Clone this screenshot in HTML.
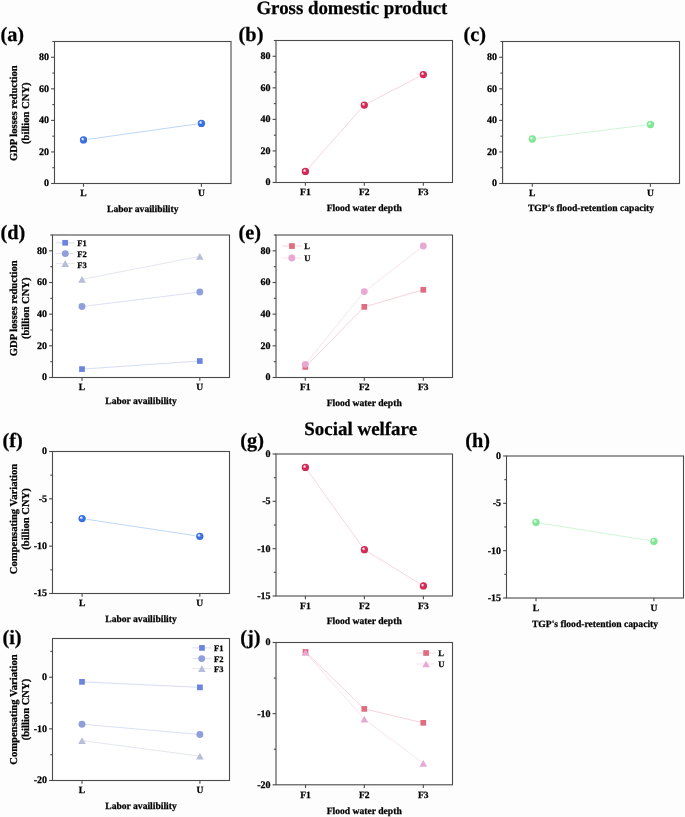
<!DOCTYPE html>
<html><head><meta charset="utf-8"><style>
html,body{margin:0;padding:0;background:#fdfdfd;}
svg{display:block;will-change:transform;}
text{font-family:"Liberation Serif", serif;font-weight:bold;fill:#000;stroke:#000;stroke-width:0.25px;}
</style></head><body>
<svg width="685" height="817" viewBox="0 0 685 817" text-rendering="geometricPrecision">
<defs><radialGradient id="gb" cx="0.5" cy="0.5" r="0.5" fx="0.33" fy="0.31"><stop offset="0" stop-color="#eef4fe"/><stop offset="0.12" stop-color="#eef4fe"/><stop offset="0.5" stop-color="#3b70e4"/><stop offset="0.85" stop-color="#3b70e4"/><stop offset="1" stop-color="#3366dd"/></radialGradient><radialGradient id="gr" cx="0.5" cy="0.5" r="0.5" fx="0.33" fy="0.31"><stop offset="0" stop-color="#fbeef2"/><stop offset="0.12" stop-color="#fbeef2"/><stop offset="0.5" stop-color="#d42a55"/><stop offset="0.85" stop-color="#d42a55"/><stop offset="1" stop-color="#cc2550"/></radialGradient><radialGradient id="gg" cx="0.5" cy="0.5" r="0.5" fx="0.33" fy="0.31"><stop offset="0" stop-color="#f2fdf4"/><stop offset="0.12" stop-color="#f2fdf4"/><stop offset="0.5" stop-color="#80e894"/><stop offset="0.85" stop-color="#80e894"/><stop offset="1" stop-color="#78e08c"/></radialGradient></defs>
<rect width="685" height="817" fill="#fdfdfd"/>
<rect x="54.5" y="41.5" width="176.50" height="142.00" fill="#fff"/>
<polyline points="83.50,139.95 201.40,123.39" fill="none" stroke="#bfd6f5" stroke-width="1"/>
<circle cx="83.50" cy="139.95" r="4.65" fill="#fff"/>
<circle cx="83.50" cy="139.95" r="3.65" fill="url(#gb)"/>
<circle cx="201.40" cy="123.39" r="4.65" fill="#fff"/>
<circle cx="201.40" cy="123.39" r="3.65" fill="url(#gb)"/>
<rect x="54.5" y="41.5" width="176.50" height="142.00" fill="none" stroke="#4a4a4a" stroke-width="1.1"/>
<line x1="51.10" y1="183.50" x2="54.5" y2="183.50" stroke="#4a4a4a" stroke-width="1.1"/>
<text x="49.00" y="186.35" font-size="10" text-anchor="end">0</text>
<line x1="51.10" y1="151.94" x2="54.5" y2="151.94" stroke="#4a4a4a" stroke-width="1.1"/>
<text x="49.00" y="154.79" font-size="10" text-anchor="end">20</text>
<line x1="51.10" y1="120.39" x2="54.5" y2="120.39" stroke="#4a4a4a" stroke-width="1.1"/>
<text x="49.00" y="123.24" font-size="10" text-anchor="end">40</text>
<line x1="51.10" y1="88.83" x2="54.5" y2="88.83" stroke="#4a4a4a" stroke-width="1.1"/>
<text x="49.00" y="91.68" font-size="10" text-anchor="end">60</text>
<line x1="51.10" y1="57.28" x2="54.5" y2="57.28" stroke="#4a4a4a" stroke-width="1.1"/>
<text x="49.00" y="60.13" font-size="10" text-anchor="end">80</text>
<line x1="52.30" y1="167.72" x2="54.5" y2="167.72" stroke="#4a4a4a" stroke-width="1.1"/>
<line x1="52.30" y1="136.17" x2="54.5" y2="136.17" stroke="#4a4a4a" stroke-width="1.1"/>
<line x1="52.30" y1="104.61" x2="54.5" y2="104.61" stroke="#4a4a4a" stroke-width="1.1"/>
<line x1="52.30" y1="73.06" x2="54.5" y2="73.06" stroke="#4a4a4a" stroke-width="1.1"/>
<line x1="52.30" y1="41.50" x2="54.5" y2="41.50" stroke="#4a4a4a" stroke-width="1.1"/>
<line x1="83.50" y1="183.5" x2="83.50" y2="186.80" stroke="#4a4a4a" stroke-width="1.1"/>
<text x="83.50" y="196.10" font-size="9.6" text-anchor="middle">L</text>
<line x1="201.40" y1="183.5" x2="201.40" y2="186.80" stroke="#4a4a4a" stroke-width="1.1"/>
<text x="201.40" y="196.10" font-size="9.6" text-anchor="middle">U</text>
<text x="142.75" y="211.60" font-size="9.6" text-anchor="middle">Labor availibility</text>
<text x="16.80" y="113.20" font-size="10.6" text-anchor="middle" transform="rotate(-90 16.80 113.20)">GDP losses reduction</text>
<text x="29.00" y="113.20" font-size="10.6" text-anchor="middle" transform="rotate(-90 29.00 113.20)">(billion CNY)</text>
<text x="0.45" y="41.30" font-size="20.3" text-anchor="start">(a)</text>
<rect x="276.0" y="40.5" width="176.50" height="142.00" fill="#fff"/>
<polyline points="305.40,171.46 364.30,105.03 423.30,74.58" fill="none" stroke="#f8d6de" stroke-width="1"/>
<circle cx="305.40" cy="171.46" r="4.65" fill="#fff"/>
<circle cx="305.40" cy="171.46" r="3.65" fill="url(#gr)"/>
<circle cx="364.30" cy="105.03" r="4.65" fill="#fff"/>
<circle cx="364.30" cy="105.03" r="3.65" fill="url(#gr)"/>
<circle cx="423.30" cy="74.58" r="4.65" fill="#fff"/>
<circle cx="423.30" cy="74.58" r="3.65" fill="url(#gr)"/>
<rect x="276.0" y="40.5" width="176.50" height="142.00" fill="none" stroke="#4a4a4a" stroke-width="1.1"/>
<line x1="272.60" y1="182.50" x2="276.0" y2="182.50" stroke="#4a4a4a" stroke-width="1.1"/>
<text x="270.50" y="185.35" font-size="10" text-anchor="end">0</text>
<line x1="272.60" y1="150.94" x2="276.0" y2="150.94" stroke="#4a4a4a" stroke-width="1.1"/>
<text x="270.50" y="153.79" font-size="10" text-anchor="end">20</text>
<line x1="272.60" y1="119.39" x2="276.0" y2="119.39" stroke="#4a4a4a" stroke-width="1.1"/>
<text x="270.50" y="122.24" font-size="10" text-anchor="end">40</text>
<line x1="272.60" y1="87.83" x2="276.0" y2="87.83" stroke="#4a4a4a" stroke-width="1.1"/>
<text x="270.50" y="90.68" font-size="10" text-anchor="end">60</text>
<line x1="272.60" y1="56.28" x2="276.0" y2="56.28" stroke="#4a4a4a" stroke-width="1.1"/>
<text x="270.50" y="59.13" font-size="10" text-anchor="end">80</text>
<line x1="273.80" y1="166.72" x2="276.0" y2="166.72" stroke="#4a4a4a" stroke-width="1.1"/>
<line x1="273.80" y1="135.17" x2="276.0" y2="135.17" stroke="#4a4a4a" stroke-width="1.1"/>
<line x1="273.80" y1="103.61" x2="276.0" y2="103.61" stroke="#4a4a4a" stroke-width="1.1"/>
<line x1="273.80" y1="72.06" x2="276.0" y2="72.06" stroke="#4a4a4a" stroke-width="1.1"/>
<line x1="273.80" y1="40.50" x2="276.0" y2="40.50" stroke="#4a4a4a" stroke-width="1.1"/>
<line x1="305.40" y1="182.5" x2="305.40" y2="185.80" stroke="#4a4a4a" stroke-width="1.1"/>
<text x="305.40" y="195.10" font-size="9.6" text-anchor="middle">F1</text>
<line x1="364.30" y1="182.5" x2="364.30" y2="185.80" stroke="#4a4a4a" stroke-width="1.1"/>
<text x="364.30" y="195.10" font-size="9.6" text-anchor="middle">F2</text>
<line x1="423.30" y1="182.5" x2="423.30" y2="185.80" stroke="#4a4a4a" stroke-width="1.1"/>
<text x="423.30" y="195.10" font-size="9.6" text-anchor="middle">F3</text>
<text x="364.25" y="210.50" font-size="9.6" text-anchor="middle">Flood water depth</text>
<text x="238.60" y="41.30" font-size="20.3" text-anchor="start">(b)</text>
<rect x="502.6" y="41.5" width="176.90" height="142.00" fill="#fff"/>
<polyline points="532.30,139.01 650.40,124.49" fill="none" stroke="#d0f6d5" stroke-width="1"/>
<circle cx="532.30" cy="139.01" r="4.65" fill="#fff"/>
<circle cx="532.30" cy="139.01" r="3.65" fill="url(#gg)"/>
<circle cx="650.40" cy="124.49" r="4.65" fill="#fff"/>
<circle cx="650.40" cy="124.49" r="3.65" fill="url(#gg)"/>
<rect x="502.6" y="41.5" width="176.90" height="142.00" fill="none" stroke="#4a4a4a" stroke-width="1.1"/>
<line x1="499.20" y1="183.50" x2="502.6" y2="183.50" stroke="#4a4a4a" stroke-width="1.1"/>
<text x="497.10" y="186.35" font-size="10" text-anchor="end">0</text>
<line x1="499.20" y1="151.94" x2="502.6" y2="151.94" stroke="#4a4a4a" stroke-width="1.1"/>
<text x="497.10" y="154.79" font-size="10" text-anchor="end">20</text>
<line x1="499.20" y1="120.39" x2="502.6" y2="120.39" stroke="#4a4a4a" stroke-width="1.1"/>
<text x="497.10" y="123.24" font-size="10" text-anchor="end">40</text>
<line x1="499.20" y1="88.83" x2="502.6" y2="88.83" stroke="#4a4a4a" stroke-width="1.1"/>
<text x="497.10" y="91.68" font-size="10" text-anchor="end">60</text>
<line x1="499.20" y1="57.28" x2="502.6" y2="57.28" stroke="#4a4a4a" stroke-width="1.1"/>
<text x="497.10" y="60.13" font-size="10" text-anchor="end">80</text>
<line x1="500.40" y1="167.72" x2="502.6" y2="167.72" stroke="#4a4a4a" stroke-width="1.1"/>
<line x1="500.40" y1="136.17" x2="502.6" y2="136.17" stroke="#4a4a4a" stroke-width="1.1"/>
<line x1="500.40" y1="104.61" x2="502.6" y2="104.61" stroke="#4a4a4a" stroke-width="1.1"/>
<line x1="500.40" y1="73.06" x2="502.6" y2="73.06" stroke="#4a4a4a" stroke-width="1.1"/>
<line x1="500.40" y1="41.50" x2="502.6" y2="41.50" stroke="#4a4a4a" stroke-width="1.1"/>
<line x1="532.30" y1="183.5" x2="532.30" y2="186.80" stroke="#4a4a4a" stroke-width="1.1"/>
<text x="532.30" y="196.00" font-size="9.6" text-anchor="middle">L</text>
<line x1="650.40" y1="183.5" x2="650.40" y2="186.80" stroke="#4a4a4a" stroke-width="1.1"/>
<text x="650.40" y="196.00" font-size="9.6" text-anchor="middle">U</text>
<text x="591.05" y="211.30" font-size="9.6" text-anchor="middle">TGP's flood-retention capacity</text>
<text x="463.60" y="41.10" font-size="20.3" text-anchor="start">(c)</text>
<rect x="52.5" y="235.0" width="177.00" height="142.50" fill="#fff"/>
<polyline points="82.00,369.11 199.80,361.03" fill="none" stroke="#d6ddf5" stroke-width="1"/>
<polyline points="82.00,306.57 199.80,292.00" fill="none" stroke="#dce1f3" stroke-width="1"/>
<polyline points="82.00,279.33 199.80,256.38" fill="none" stroke="#e4e7f0" stroke-width="1"/>
<rect x="79.15" y="366.26" width="5.7" height="5.7" fill="#6b84dc"/>
<rect x="196.95" y="358.18" width="5.7" height="5.7" fill="#6b84dc"/>
<circle cx="82.00" cy="306.57" r="3.45" fill="#8e9fdc"/>
<circle cx="199.80" cy="292.00" r="3.45" fill="#8e9fdc"/>
<path d="M82.00 275.98L85.80 282.68L78.20 282.68Z" fill="#b6bed8"/>
<path d="M199.80 253.03L203.60 259.73L196.00 259.73Z" fill="#b6bed8"/>
<rect x="52.5" y="235.0" width="177.00" height="142.50" fill="none" stroke="#4a4a4a" stroke-width="1.1"/>
<line x1="49.10" y1="377.50" x2="52.5" y2="377.50" stroke="#4a4a4a" stroke-width="1.1"/>
<text x="47.00" y="380.35" font-size="10" text-anchor="end">0</text>
<line x1="49.10" y1="345.83" x2="52.5" y2="345.83" stroke="#4a4a4a" stroke-width="1.1"/>
<text x="47.00" y="348.68" font-size="10" text-anchor="end">20</text>
<line x1="49.10" y1="314.17" x2="52.5" y2="314.17" stroke="#4a4a4a" stroke-width="1.1"/>
<text x="47.00" y="317.02" font-size="10" text-anchor="end">40</text>
<line x1="49.10" y1="282.50" x2="52.5" y2="282.50" stroke="#4a4a4a" stroke-width="1.1"/>
<text x="47.00" y="285.35" font-size="10" text-anchor="end">60</text>
<line x1="49.10" y1="250.83" x2="52.5" y2="250.83" stroke="#4a4a4a" stroke-width="1.1"/>
<text x="47.00" y="253.68" font-size="10" text-anchor="end">80</text>
<line x1="50.30" y1="361.67" x2="52.5" y2="361.67" stroke="#4a4a4a" stroke-width="1.1"/>
<line x1="50.30" y1="330.00" x2="52.5" y2="330.00" stroke="#4a4a4a" stroke-width="1.1"/>
<line x1="50.30" y1="298.33" x2="52.5" y2="298.33" stroke="#4a4a4a" stroke-width="1.1"/>
<line x1="50.30" y1="266.67" x2="52.5" y2="266.67" stroke="#4a4a4a" stroke-width="1.1"/>
<line x1="50.30" y1="235.00" x2="52.5" y2="235.00" stroke="#4a4a4a" stroke-width="1.1"/>
<line x1="82.00" y1="377.5" x2="82.00" y2="380.80" stroke="#4a4a4a" stroke-width="1.1"/>
<text x="82.00" y="390.20" font-size="9.6" text-anchor="middle">L</text>
<line x1="199.80" y1="377.5" x2="199.80" y2="380.80" stroke="#4a4a4a" stroke-width="1.1"/>
<text x="199.80" y="390.20" font-size="9.6" text-anchor="middle">U</text>
<text x="141.00" y="403.50" font-size="9.6" text-anchor="middle">Labor availibility</text>
<text x="16.80" y="308.30" font-size="10.6" text-anchor="middle" transform="rotate(-90 16.80 308.30)">GDP losses reduction</text>
<text x="29.00" y="308.30" font-size="10.6" text-anchor="middle" transform="rotate(-90 29.00 308.30)">(billion CNY)</text>
<text x="0.45" y="239.00" font-size="20.3" text-anchor="start">(d)</text>
<line x1="55.60" y1="242.80" x2="74.60" y2="242.80" stroke="#d6ddf5" stroke-width="1"/>
<rect x="62.30" y="239.95" width="5.7" height="5.7" fill="#6b84dc"/>
<text x="77.30" y="245.70" font-size="8.5" text-anchor="start">F1</text>
<line x1="55.60" y1="253.60" x2="74.60" y2="253.60" stroke="#dce1f3" stroke-width="1"/>
<circle cx="65.30" cy="253.60" r="3.45" fill="#8e9fdc"/>
<text x="77.30" y="256.70" font-size="8.5" text-anchor="start">F2</text>
<line x1="55.60" y1="263.60" x2="74.60" y2="263.60" stroke="#e4e7f0" stroke-width="1"/>
<path d="M65.20 260.25L69.00 266.95L61.40 266.95Z" fill="#b6bed8"/>
<text x="77.30" y="267.50" font-size="8.5" text-anchor="start">F3</text>
<rect x="276.0" y="235.0" width="176.50" height="142.50" fill="#fff"/>
<polyline points="305.30,366.89 364.30,306.88 423.30,289.78" fill="none" stroke="#f7d3da" stroke-width="1"/>
<polyline points="305.30,364.36 364.30,291.60 423.30,245.93" fill="none" stroke="#fae3ee" stroke-width="1"/>
<rect x="302.45" y="364.04" width="5.7" height="5.7" fill="#e06c80"/>
<rect x="361.45" y="304.03" width="5.7" height="5.7" fill="#e06c80"/>
<rect x="420.45" y="286.93" width="5.7" height="5.7" fill="#e06c80"/>
<circle cx="305.30" cy="364.36" r="3.45" fill="#e8a8d4"/>
<circle cx="364.30" cy="291.60" r="3.45" fill="#e8a8d4"/>
<circle cx="423.30" cy="245.93" r="3.45" fill="#e8a8d4"/>
<rect x="276.0" y="235.0" width="176.50" height="142.50" fill="none" stroke="#4a4a4a" stroke-width="1.1"/>
<line x1="272.60" y1="377.50" x2="276.0" y2="377.50" stroke="#4a4a4a" stroke-width="1.1"/>
<text x="270.50" y="380.35" font-size="10" text-anchor="end">0</text>
<line x1="272.60" y1="345.83" x2="276.0" y2="345.83" stroke="#4a4a4a" stroke-width="1.1"/>
<text x="270.50" y="348.68" font-size="10" text-anchor="end">20</text>
<line x1="272.60" y1="314.17" x2="276.0" y2="314.17" stroke="#4a4a4a" stroke-width="1.1"/>
<text x="270.50" y="317.02" font-size="10" text-anchor="end">40</text>
<line x1="272.60" y1="282.50" x2="276.0" y2="282.50" stroke="#4a4a4a" stroke-width="1.1"/>
<text x="270.50" y="285.35" font-size="10" text-anchor="end">60</text>
<line x1="272.60" y1="250.83" x2="276.0" y2="250.83" stroke="#4a4a4a" stroke-width="1.1"/>
<text x="270.50" y="253.68" font-size="10" text-anchor="end">80</text>
<line x1="273.80" y1="361.67" x2="276.0" y2="361.67" stroke="#4a4a4a" stroke-width="1.1"/>
<line x1="273.80" y1="330.00" x2="276.0" y2="330.00" stroke="#4a4a4a" stroke-width="1.1"/>
<line x1="273.80" y1="298.33" x2="276.0" y2="298.33" stroke="#4a4a4a" stroke-width="1.1"/>
<line x1="273.80" y1="266.67" x2="276.0" y2="266.67" stroke="#4a4a4a" stroke-width="1.1"/>
<line x1="273.80" y1="235.00" x2="276.0" y2="235.00" stroke="#4a4a4a" stroke-width="1.1"/>
<line x1="305.30" y1="377.5" x2="305.30" y2="380.80" stroke="#4a4a4a" stroke-width="1.1"/>
<text x="305.30" y="390.20" font-size="9.6" text-anchor="middle">F1</text>
<line x1="364.30" y1="377.5" x2="364.30" y2="380.80" stroke="#4a4a4a" stroke-width="1.1"/>
<text x="364.30" y="390.20" font-size="9.6" text-anchor="middle">F2</text>
<line x1="423.30" y1="377.5" x2="423.30" y2="380.80" stroke="#4a4a4a" stroke-width="1.1"/>
<text x="423.30" y="390.20" font-size="9.6" text-anchor="middle">F3</text>
<text x="364.25" y="405.60" font-size="9.6" text-anchor="middle">Flood water depth</text>
<text x="238.60" y="239.00" font-size="20.3" text-anchor="start">(e)</text>
<line x1="282.30" y1="246.05" x2="301.70" y2="246.05" stroke="#f7d3da" stroke-width="1"/>
<rect x="289.10" y="243.20" width="5.7" height="5.7" fill="#e06c80"/>
<text x="304.20" y="249.00" font-size="8.5" text-anchor="start">L</text>
<line x1="282.30" y1="258.00" x2="301.70" y2="258.00" stroke="#fae3ee" stroke-width="1"/>
<circle cx="291.80" cy="258.00" r="3.45" fill="#e8a8d4"/>
<text x="304.20" y="260.60" font-size="8.5" text-anchor="start">U</text>
<rect x="52.5" y="451.5" width="177.00" height="142.00" fill="#fff"/>
<polyline points="82.10,518.62 199.80,536.32" fill="none" stroke="#bfd6f5" stroke-width="1"/>
<circle cx="82.10" cy="518.62" r="4.65" fill="#fff"/>
<circle cx="82.10" cy="518.62" r="3.65" fill="url(#gb)"/>
<circle cx="199.80" cy="536.32" r="4.65" fill="#fff"/>
<circle cx="199.80" cy="536.32" r="3.65" fill="url(#gb)"/>
<rect x="52.5" y="451.5" width="177.00" height="142.00" fill="none" stroke="#4a4a4a" stroke-width="1.1"/>
<line x1="49.10" y1="451.50" x2="52.5" y2="451.50" stroke="#4a4a4a" stroke-width="1.1"/>
<text x="47.00" y="454.35" font-size="10" text-anchor="end">0</text>
<line x1="49.10" y1="498.83" x2="52.5" y2="498.83" stroke="#4a4a4a" stroke-width="1.1"/>
<text x="47.00" y="501.68" font-size="10" text-anchor="end">-5</text>
<line x1="49.10" y1="546.17" x2="52.5" y2="546.17" stroke="#4a4a4a" stroke-width="1.1"/>
<text x="47.00" y="549.02" font-size="10" text-anchor="end">-10</text>
<line x1="49.10" y1="593.50" x2="52.5" y2="593.50" stroke="#4a4a4a" stroke-width="1.1"/>
<text x="47.00" y="596.35" font-size="10" text-anchor="end">-15</text>
<line x1="50.30" y1="475.17" x2="52.5" y2="475.17" stroke="#4a4a4a" stroke-width="1.1"/>
<line x1="50.30" y1="522.50" x2="52.5" y2="522.50" stroke="#4a4a4a" stroke-width="1.1"/>
<line x1="50.30" y1="569.83" x2="52.5" y2="569.83" stroke="#4a4a4a" stroke-width="1.1"/>
<line x1="82.10" y1="593.5" x2="82.10" y2="596.80" stroke="#4a4a4a" stroke-width="1.1"/>
<text x="82.10" y="606.40" font-size="9.6" text-anchor="middle">L</text>
<line x1="199.80" y1="593.5" x2="199.80" y2="596.80" stroke="#4a4a4a" stroke-width="1.1"/>
<text x="199.80" y="606.40" font-size="9.6" text-anchor="middle">U</text>
<text x="141.00" y="622.20" font-size="9.6" text-anchor="middle">Labor availibility</text>
<text x="16.80" y="519.00" font-size="10.6" text-anchor="middle" transform="rotate(-90 16.80 519.00)">Compensating Variation</text>
<text x="29.00" y="519.00" font-size="10.6" text-anchor="middle" transform="rotate(-90 29.00 519.00)">(billion CNY)</text>
<text x="2.40" y="446.60" font-size="20.3" text-anchor="start">(f)</text>
<rect x="276.0" y="454.0" width="176.50" height="142.00" fill="#fff"/>
<polyline points="305.40,467.44 364.40,549.71 423.40,585.97" fill="none" stroke="#f8d6de" stroke-width="1"/>
<circle cx="305.40" cy="467.44" r="4.65" fill="#fff"/>
<circle cx="305.40" cy="467.44" r="3.65" fill="url(#gr)"/>
<circle cx="364.40" cy="549.71" r="4.65" fill="#fff"/>
<circle cx="364.40" cy="549.71" r="3.65" fill="url(#gr)"/>
<circle cx="423.40" cy="585.97" r="4.65" fill="#fff"/>
<circle cx="423.40" cy="585.97" r="3.65" fill="url(#gr)"/>
<rect x="276.0" y="454.0" width="176.50" height="142.00" fill="none" stroke="#4a4a4a" stroke-width="1.1"/>
<line x1="272.60" y1="454.00" x2="276.0" y2="454.00" stroke="#4a4a4a" stroke-width="1.1"/>
<text x="270.50" y="456.85" font-size="10" text-anchor="end">0</text>
<line x1="272.60" y1="501.33" x2="276.0" y2="501.33" stroke="#4a4a4a" stroke-width="1.1"/>
<text x="270.50" y="504.18" font-size="10" text-anchor="end">-5</text>
<line x1="272.60" y1="548.67" x2="276.0" y2="548.67" stroke="#4a4a4a" stroke-width="1.1"/>
<text x="270.50" y="551.52" font-size="10" text-anchor="end">-10</text>
<line x1="272.60" y1="596.00" x2="276.0" y2="596.00" stroke="#4a4a4a" stroke-width="1.1"/>
<text x="270.50" y="598.85" font-size="10" text-anchor="end">-15</text>
<line x1="273.80" y1="477.67" x2="276.0" y2="477.67" stroke="#4a4a4a" stroke-width="1.1"/>
<line x1="273.80" y1="525.00" x2="276.0" y2="525.00" stroke="#4a4a4a" stroke-width="1.1"/>
<line x1="273.80" y1="572.33" x2="276.0" y2="572.33" stroke="#4a4a4a" stroke-width="1.1"/>
<line x1="305.40" y1="596.0" x2="305.40" y2="599.30" stroke="#4a4a4a" stroke-width="1.1"/>
<text x="305.40" y="608.60" font-size="9.6" text-anchor="middle">F1</text>
<line x1="364.40" y1="596.0" x2="364.40" y2="599.30" stroke="#4a4a4a" stroke-width="1.1"/>
<text x="364.40" y="608.60" font-size="9.6" text-anchor="middle">F2</text>
<line x1="423.40" y1="596.0" x2="423.40" y2="599.30" stroke="#4a4a4a" stroke-width="1.1"/>
<text x="423.40" y="608.60" font-size="9.6" text-anchor="middle">F3</text>
<text x="364.25" y="624.20" font-size="9.6" text-anchor="middle">Flood water depth</text>
<text x="240.30" y="446.60" font-size="20.3" text-anchor="start">(g)</text>
<rect x="506.5" y="456.0" width="177.00" height="142.00" fill="#fff"/>
<polyline points="536.00,522.36 653.90,541.29" fill="none" stroke="#d0f6d5" stroke-width="1"/>
<circle cx="536.00" cy="522.36" r="4.65" fill="#fff"/>
<circle cx="536.00" cy="522.36" r="3.65" fill="url(#gg)"/>
<circle cx="653.90" cy="541.29" r="4.65" fill="#fff"/>
<circle cx="653.90" cy="541.29" r="3.65" fill="url(#gg)"/>
<rect x="506.5" y="456.0" width="177.00" height="142.00" fill="none" stroke="#4a4a4a" stroke-width="1.1"/>
<line x1="503.10" y1="456.00" x2="506.5" y2="456.00" stroke="#4a4a4a" stroke-width="1.1"/>
<text x="501.00" y="458.85" font-size="10" text-anchor="end">0</text>
<line x1="503.10" y1="503.33" x2="506.5" y2="503.33" stroke="#4a4a4a" stroke-width="1.1"/>
<text x="501.00" y="506.18" font-size="10" text-anchor="end">-5</text>
<line x1="503.10" y1="550.67" x2="506.5" y2="550.67" stroke="#4a4a4a" stroke-width="1.1"/>
<text x="501.00" y="553.52" font-size="10" text-anchor="end">-10</text>
<line x1="503.10" y1="598.00" x2="506.5" y2="598.00" stroke="#4a4a4a" stroke-width="1.1"/>
<text x="501.00" y="600.85" font-size="10" text-anchor="end">-15</text>
<line x1="504.30" y1="479.67" x2="506.5" y2="479.67" stroke="#4a4a4a" stroke-width="1.1"/>
<line x1="504.30" y1="527.00" x2="506.5" y2="527.00" stroke="#4a4a4a" stroke-width="1.1"/>
<line x1="504.30" y1="574.33" x2="506.5" y2="574.33" stroke="#4a4a4a" stroke-width="1.1"/>
<line x1="536.00" y1="598.0" x2="536.00" y2="601.30" stroke="#4a4a4a" stroke-width="1.1"/>
<text x="536.00" y="610.60" font-size="9.6" text-anchor="middle">L</text>
<line x1="653.90" y1="598.0" x2="653.90" y2="601.30" stroke="#4a4a4a" stroke-width="1.1"/>
<text x="653.90" y="610.60" font-size="9.6" text-anchor="middle">U</text>
<text x="595.00" y="626.60" font-size="9.6" text-anchor="middle">TGP's flood-retention capacity</text>
<text x="465.30" y="446.60" font-size="20.3" text-anchor="start">(h)</text>
<rect x="52.5" y="638.5" width="177.00" height="142.00" fill="#fff"/>
<polyline points="82.00,681.87 199.90,687.35" fill="none" stroke="#d6ddf5" stroke-width="1"/>
<polyline points="82.00,724.22 199.90,734.49" fill="none" stroke="#dce1f3" stroke-width="1"/>
<polyline points="82.00,740.59 199.90,756.18" fill="none" stroke="#e4e7f0" stroke-width="1"/>
<rect x="79.15" y="679.02" width="5.7" height="5.7" fill="#6b84dc"/>
<rect x="197.05" y="684.50" width="5.7" height="5.7" fill="#6b84dc"/>
<circle cx="82.00" cy="724.22" r="3.45" fill="#8e9fdc"/>
<circle cx="199.90" cy="734.49" r="3.45" fill="#8e9fdc"/>
<path d="M82.00 737.24L85.80 743.94L78.20 743.94Z" fill="#b6bed8"/>
<path d="M199.90 752.83L203.70 759.53L196.10 759.53Z" fill="#b6bed8"/>
<rect x="52.5" y="638.5" width="177.00" height="142.00" fill="none" stroke="#4a4a4a" stroke-width="1.1"/>
<line x1="49.10" y1="677.23" x2="52.5" y2="677.23" stroke="#4a4a4a" stroke-width="1.1"/>
<text x="47.00" y="680.08" font-size="10" text-anchor="end">0</text>
<line x1="49.10" y1="728.86" x2="52.5" y2="728.86" stroke="#4a4a4a" stroke-width="1.1"/>
<text x="47.00" y="731.71" font-size="10" text-anchor="end">-10</text>
<line x1="49.10" y1="780.50" x2="52.5" y2="780.50" stroke="#4a4a4a" stroke-width="1.1"/>
<text x="47.00" y="783.35" font-size="10" text-anchor="end">-20</text>
<line x1="50.30" y1="651.41" x2="52.5" y2="651.41" stroke="#4a4a4a" stroke-width="1.1"/>
<line x1="50.30" y1="703.05" x2="52.5" y2="703.05" stroke="#4a4a4a" stroke-width="1.1"/>
<line x1="50.30" y1="754.68" x2="52.5" y2="754.68" stroke="#4a4a4a" stroke-width="1.1"/>
<line x1="82.00" y1="780.5" x2="82.00" y2="783.80" stroke="#4a4a4a" stroke-width="1.1"/>
<text x="82.00" y="793.20" font-size="9.6" text-anchor="middle">L</text>
<line x1="199.90" y1="780.5" x2="199.90" y2="783.80" stroke="#4a4a4a" stroke-width="1.1"/>
<text x="199.90" y="793.20" font-size="9.6" text-anchor="middle">U</text>
<text x="141.00" y="809.00" font-size="9.6" text-anchor="middle">Labor availibility</text>
<text x="16.80" y="709.60" font-size="10.6" text-anchor="middle" transform="rotate(-90 16.80 709.60)">Compensating Variation</text>
<text x="29.00" y="709.60" font-size="10.6" text-anchor="middle" transform="rotate(-90 29.00 709.60)">(billion CNY)</text>
<text x="2.40" y="644.40" font-size="20.3" text-anchor="start">(i)</text>
<line x1="192.30" y1="647.90" x2="211.40" y2="647.90" stroke="#d6ddf5" stroke-width="1"/>
<rect x="199.10" y="645.05" width="5.7" height="5.7" fill="#6b84dc"/>
<text x="214.10" y="650.80" font-size="8.5" text-anchor="start">F1</text>
<line x1="192.30" y1="658.60" x2="211.40" y2="658.60" stroke="#dce1f3" stroke-width="1"/>
<circle cx="201.70" cy="658.60" r="3.45" fill="#8e9fdc"/>
<text x="214.10" y="661.90" font-size="8.5" text-anchor="start">F2</text>
<line x1="192.30" y1="668.60" x2="211.40" y2="668.60" stroke="#e4e7f0" stroke-width="1"/>
<path d="M201.85 665.25L205.65 671.95L198.05 671.95Z" fill="#b6bed8"/>
<text x="214.10" y="672.40" font-size="8.5" text-anchor="start">F3</text>
<rect x="276.0" y="642.5" width="176.50" height="142.30" fill="#fff"/>
<polyline points="305.50,651.89 364.30,708.88 423.30,722.83" fill="none" stroke="#f7d3da" stroke-width="1"/>
<polyline points="305.50,652.32 364.30,719.13 423.30,763.31" fill="none" stroke="#fae3ee" stroke-width="1"/>
<rect x="302.65" y="649.04" width="5.7" height="5.7" fill="#e06c80"/>
<rect x="361.45" y="706.03" width="5.7" height="5.7" fill="#e06c80"/>
<rect x="420.45" y="719.98" width="5.7" height="5.7" fill="#e06c80"/>
<path d="M305.50 648.97L309.30 655.67L301.70 655.67Z" fill="#e8a8d4"/>
<path d="M364.30 715.78L368.10 722.48L360.50 722.48Z" fill="#e8a8d4"/>
<path d="M423.30 759.96L427.10 766.66L419.50 766.66Z" fill="#e8a8d4"/>
<rect x="276.0" y="642.5" width="176.50" height="142.30" fill="none" stroke="#4a4a4a" stroke-width="1.1"/>
<line x1="272.60" y1="642.50" x2="276.0" y2="642.50" stroke="#4a4a4a" stroke-width="1.1"/>
<text x="270.50" y="645.35" font-size="10" text-anchor="end">0</text>
<line x1="272.60" y1="713.65" x2="276.0" y2="713.65" stroke="#4a4a4a" stroke-width="1.1"/>
<text x="270.50" y="716.50" font-size="10" text-anchor="end">-10</text>
<line x1="272.60" y1="784.80" x2="276.0" y2="784.80" stroke="#4a4a4a" stroke-width="1.1"/>
<text x="270.50" y="787.65" font-size="10" text-anchor="end">-20</text>
<line x1="273.80" y1="678.08" x2="276.0" y2="678.08" stroke="#4a4a4a" stroke-width="1.1"/>
<line x1="273.80" y1="749.22" x2="276.0" y2="749.22" stroke="#4a4a4a" stroke-width="1.1"/>
<line x1="305.50" y1="784.8" x2="305.50" y2="788.10" stroke="#4a4a4a" stroke-width="1.1"/>
<text x="305.50" y="797.60" font-size="9.6" text-anchor="middle">F1</text>
<line x1="364.30" y1="784.8" x2="364.30" y2="788.10" stroke="#4a4a4a" stroke-width="1.1"/>
<text x="364.30" y="797.60" font-size="9.6" text-anchor="middle">F2</text>
<line x1="423.30" y1="784.8" x2="423.30" y2="788.10" stroke="#4a4a4a" stroke-width="1.1"/>
<text x="423.30" y="797.60" font-size="9.6" text-anchor="middle">F3</text>
<text x="364.25" y="813.60" font-size="9.6" text-anchor="middle">Flood water depth</text>
<text x="240.30" y="644.40" font-size="20.3" text-anchor="start">(j)</text>
<line x1="416.30" y1="653.00" x2="435.70" y2="653.00" stroke="#f7d3da" stroke-width="1"/>
<rect x="423.25" y="650.15" width="5.7" height="5.7" fill="#e06c80"/>
<text x="438.20" y="656.00" font-size="8.5" text-anchor="start">L</text>
<line x1="416.30" y1="664.00" x2="435.70" y2="664.00" stroke="#fae3ee" stroke-width="1"/>
<path d="M426.05 660.65L429.85 667.35L422.25 667.35Z" fill="#e8a8d4"/>
<text x="438.20" y="667.00" font-size="8.5" text-anchor="start">U</text>
<text x="351.90" y="13.80" font-size="18.85" text-anchor="middle">Gross domestic product</text>
<text x="360.70" y="434.70" font-size="18.95" text-anchor="middle">Social welfare</text>
</svg></body></html>
